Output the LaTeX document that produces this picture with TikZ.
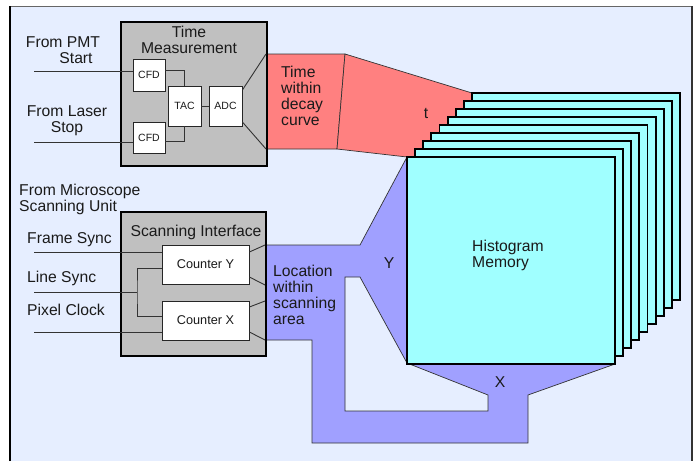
\documentclass[tikz,border=0pt]{standalone}
\usepackage{fontspec}
\setmainfont{Liberation Sans}
\definecolor{panelc}{HTML}{E6EEFF}
\definecolor{grayc}{HTML}{C0C0C0}
\definecolor{redc}{HTML}{FF8080}
\definecolor{bluec}{HTML}{A0A0FF}
\definecolor{cyanc}{HTML}{A0FFFF}
\definecolor{textc}{HTML}{1A1A1A}
\begin{document}
\begin{tikzpicture}[x=1pt,y=-1pt,
  txt/.style={inner sep=0pt, text=textc, font=\fontsize{15.7}{15.8}\selectfont},
  unitbox/.style={draw=black, line width=2.2pt, fill=grayc, inner sep=0pt},
  smallbox/.style={draw=black!85, line width=0.8pt, fill=white, inner sep=0pt, text=textc, font=\fontsize{10.5}{12}\selectfont},
  ctrbox/.style={draw=black!85, line width=0.8pt, fill=white, inner sep=0pt, text=textc, font=\fontsize{12.7}{14}\selectfont},
  plane/.style={draw=black, line width=1.8pt, fill=cyanc, minimum width=208pt, minimum height=207pt, inner sep=0pt},
  region/.style={draw=black!80, line width=0.7pt},
  wire/.style={draw=black!80, line width=0.9pt}]
\useasboundingbox (0,0) rectangle (696,461);
\fill[white] (0,0) rectangle (696,461);
\fill[panelc] (10,6) rectangle (692,461);
\draw[black!60, line width=1pt] (10,6) -- (692,6);
\draw[black, line width=1.4pt] (10,461) -- (10,6);
\draw[black!80, line width=1.2pt] (692,6) -- (692,461);

% coordinates of the data-path shapes
\coordinate (r1) at (266,54);
\coordinate (r2) at (345,54);
\coordinate (r3) at (472,93);
\coordinate (r3b) at (472,157);
\coordinate (r4) at (407,157);
\coordinate (r5) at (337,149);
\coordinate (r6) at (266,149);
\coordinate (b1) at (265,245);
\coordinate (b2) at (360,245);
\coordinate (b4) at (615,364);
\coordinate (b5) at (528,395);
\coordinate (b6) at (528,443);
\coordinate (b7) at (312,443);
\coordinate (b8) at (312,340);
\coordinate (b9) at (265,340);
\coordinate (bm1) at (265,285);
\coordinate (bm2) at (265,301);
\coordinate (h1) at (345,277);
\coordinate (h2) at (360,277);
\coordinate (h3) at (407,363);
\coordinate (h4) at (488,395);
\coordinate (h5) at (488,411);
\coordinate (h6) at (345,411);

% red time path
\filldraw[region, fill=redc] (r1) -- (r2) -- (r5) -- (r6) -- cycle;
\filldraw[region, fill=redc] (r2) -- (r3) -- (r3b) -- (r4) -- (r5) -- cycle;
% blue location path
\filldraw[region, fill=bluec, even odd rule]
  (b1) -- (b2) -- (r4) -- (b4) -- (b5) -- (b6) -- (b7) -- (b8) -- (b9) -- cycle
  (h1) -- (h2) -- (h3) -- (h4) -- (h5) -- (h6) -- cycle;

% histogram memory planes
\foreach \i in {8,7,...,0} {
  \node[plane] (p\i) at ({511+8.125*\i},{260.5-8*\i}) {};
}

% time measurement unit
\node[unitbox, minimum width=146pt, minimum height=144pt] (tm) at (194,94) {};
\node[txt, align=center] (tmlabel) at (189,40) {Time\\Measurement};
\node[smallbox, minimum width=32pt, minimum height=32pt] (cfd1) at (149,75) {CFD};
\node[smallbox, minimum width=32pt, minimum height=31pt] (cfd2) at (149,137.5) {CFD};
\node[smallbox, minimum width=33pt, minimum height=40pt] (tac) at (184.5,106) {TAC};
\node[smallbox, minimum width=33pt, minimum height=40pt] (adc) at (225.5,106) {ADC};

% scanning interface unit
\node[unitbox, minimum width=145pt, minimum height=144pt] (si) at (193.5,284) {};
\node[txt] (silabel) at (196,232) {Scanning Interface};
\node[ctrbox, minimum width=87pt, minimum height=39pt] (cy) at (205.5,264.5) {Counter Y};
\node[ctrbox, minimum width=87pt, minimum height=39pt] (cx) at (205.5,320.5) {Counter X};

% input wires
\coordinate (pmt) at (34,71);
\coordinate (laser) at (34,142);
\coordinate (fs) at (34,252);
\coordinate (ls) at (34,292);
\coordinate (lsj) at (137,292);
\coordinate (pc) at (34,332);
\draw[wire] (pmt) -- (pmt -| cfd1.west);
\draw[wire] (laser) -- (laser -| cfd2.west);
\draw[wire] ([yshift=5pt]cfd1.east) -| (tac.north);
\draw[wire] ([yshift=-3.5pt]cfd2.east) -| (tac.south);
\draw[wire] (tac) -- (adc);
\draw[wire] ([yshift=16pt]adc.east) -- (r1);
\draw[wire] ([yshift=-16pt]adc.east) -- (r6);

\draw[wire] (fs) -- (fs -| cy.west);
\draw[wire] (ls) -- (lsj);
\draw[wire] ([yshift=-3.5pt]cy.west) -| (lsj) |- ([yshift=4.5pt]cx.west);
\draw[wire] (pc) -- (pc -| cx.west);
\draw[wire] ([yshift=12.5pt]cy.east) -- (b1);
\draw[wire] ([yshift=-12.5pt]cy.east) -- (bm1);
\draw[wire] ([yshift=13.5pt]cx.east) -- (bm2);
\draw[wire] ([yshift=-11.5pt]cx.east) -- (b9);

% labels
\node[txt] (pmtlabel) at (63,42) {From PMT};
\node[txt] (startlabel) at (76,58) {Start};
\node[txt, align=center] (laserlabel) at (67,120.5) {From Laser\\Stop};
\node[txt, align=left, anchor=west] (msulabel) at (19,199.5) {From Microscope\\Scanning Unit};
\node[txt, anchor=west] (fslabel) at (27,240) {Frame Sync};
\node[txt, anchor=west] (lslabel) at (27,278) {Line Sync};
\node[txt, anchor=west] (pclabel) at (27,310) {Pixel Clock};
\node[txt, align=left, anchor=west] (timelabel) at (281,96) {Time\\within\\decay\\curve};
\node[txt] (tlabel) at (426,113) {t};
\node[txt, align=left, anchor=west] (loclabel) at (273,295) {Location\\within\\scanning\\area};
\node[txt] (ylabel) at (389,263) {Y};
\node[txt] (xlabel) at (500,382) {X};
\node[txt, align=left, anchor=west] (hmlabel) at (472,255.5) {Histogram\\Memory};
\end{tikzpicture}
\end{document}
